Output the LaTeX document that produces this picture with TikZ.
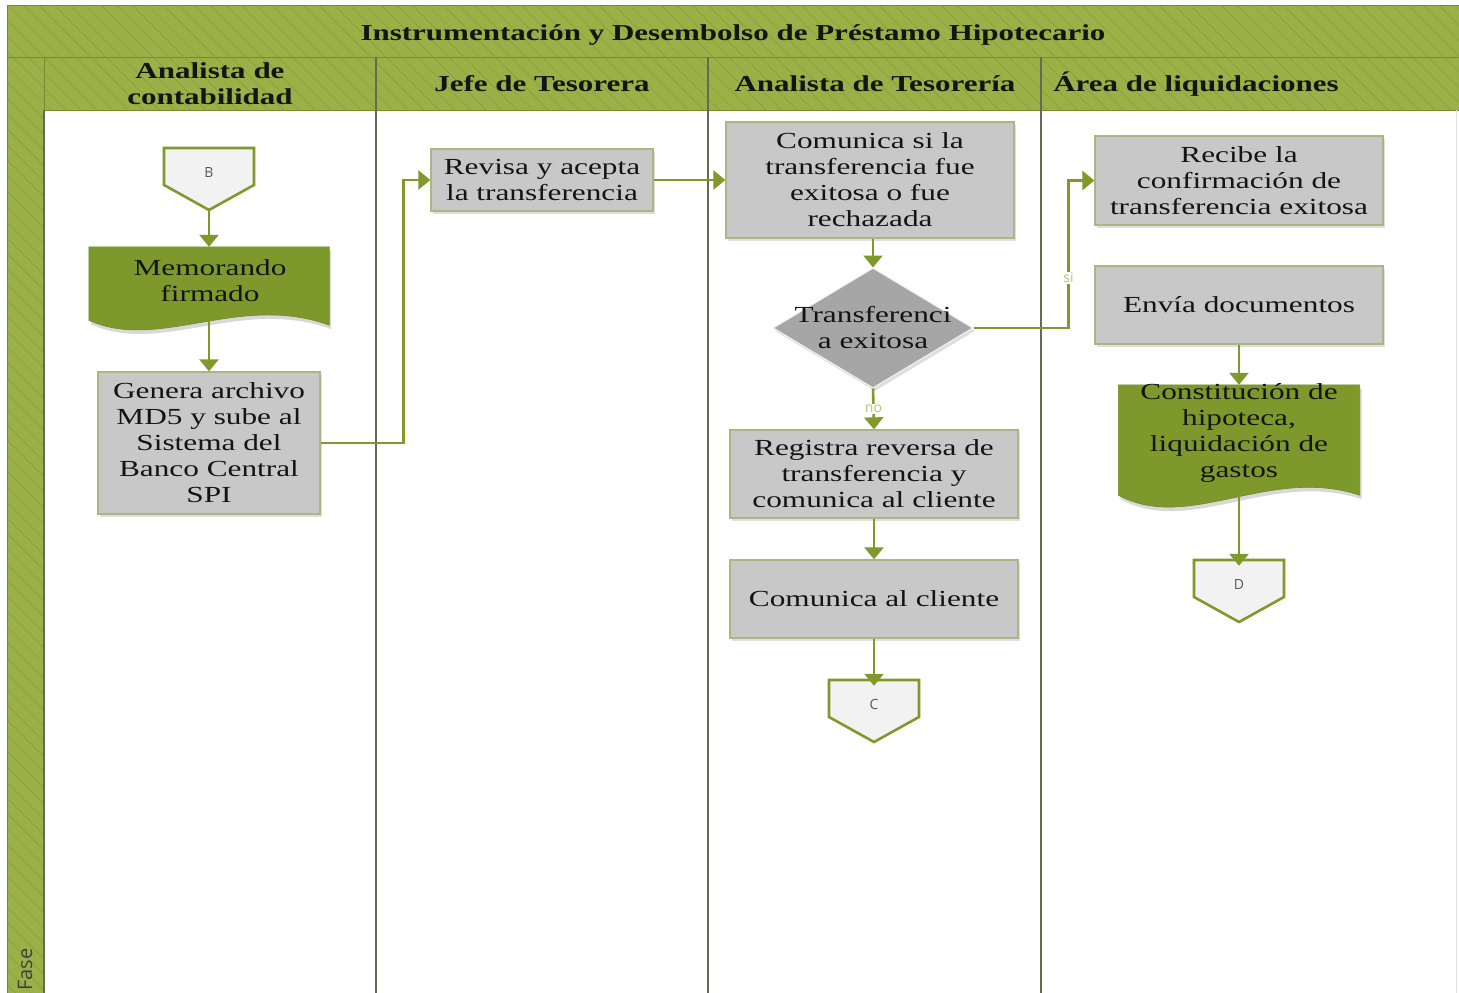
\documentclass[tikz,border=0pt]{standalone}
\usepackage{fontspec}
\setmainfont[FakeStretch=1.36]{Liberation Serif}
\newfontfamily\tagfont{Open Sans}
\usetikzlibrary{arrows.meta,shapes.geometric,shadows,calc,patterns.meta}

\definecolor{band}{RGB}{155,177,72}
\definecolor{bandedge}{RGB}{118,138,48}
\definecolor{docgreen}{RGB}{126,153,43}
\definecolor{flowgreen}{RGB}{127,154,42}
\definecolor{boxgray}{RGB}{200,200,200}
\definecolor{boxedge}{RGB}{172,182,132}
\definecolor{decgray}{RGB}{166,166,166}
\definecolor{offfill}{RGB}{242,242,242}
\definecolor{laneline}{RGB}{100,106,85}
\definecolor{tagtext}{RGB}{182,198,112}
\definecolor{inktext}{RGB}{20,20,20}

\tikzset{
  bandcell/.style={fill=band, draw=bandedge, line width=0.8pt,
    postaction={pattern={Lines[angle=-45,distance=11pt,line width=0.5pt]}, pattern color=bandedge!60!band}},
  lanesep/.style={draw=laneline, line width=1.4pt},
  headtext/.style={font=\fontsize{22.8}{26}\selectfont\bfseries, text=inktext, align=center},
  stepbox/.style={rectangle, fill=boxgray, draw=boxedge, line width=1.3pt,
    font=\fontsize{23}{26}\selectfont, text=inktext, align=center, inner sep=0pt,
    drop shadow={opacity=0.25, shadow xshift=2pt, shadow yshift=-3pt}},
  docbox/.style={rectangle, inner sep=0pt, font=\fontsize{23}{26}\selectfont, text=inktext, align=center},
  docshape/.style={fill=docgreen, draw=docgreen!90!black, line width=0.6pt,
    drop shadow={opacity=0.3, shadow xshift=2pt, shadow yshift=-4pt}},
  decision/.style={diamond, fill=decgray, draw=white!90!gray, line width=1pt, inner sep=0pt,
    minimum width=200pt, minimum height=120pt,
    drop shadow={opacity=0.25, shadow xshift=2pt, shadow yshift=-3pt}},
  dectext/.style={font=\fontsize{23}{26}\selectfont, text=inktext, align=center},
  offshape/.style={fill=offfill, draw=flowgreen, line width=2.6pt, line join=miter},
  offtext/.style={rectangle, inner sep=0pt, minimum width=90pt, minimum height=37pt,
    font=\tagfont\fontsize{14}{16}\selectfont, text=black!65},
  flow/.style={draw=flowgreen, line width=2.6pt, -{Triangle[width=19pt,length=12pt]}},
  flowtag/.style={font=\tagfont\fontsize{14}{16}\selectfont, text=tagtext, fill=white, inner sep=1pt},
}

% off-page connector: rectangle with pointed bottom
\newcommand\offpage[3]{%
  \coordinate (#1-c) at (#2);
  \draw[offshape] ($(#1-c)+(-45,-18.5)$) -- ($(#1-c)+(45,-18.5)$) -- ($(#1-c)+(45,18.5)$)
     -- ($(#1-c)+(0,43.5)$) coordinate (#1-tip) -- ($(#1-c)+(-45,18.5)$) -- cycle;
  \node[offtext] (#1) at ($(#1-c)+(0,6)$) {#3};
}

\begin{document}
\begin{tikzpicture}[x=1pt,y=-1pt]
\useasboundingbox (0,0) rectangle (1459,993);
\fill[white] (0,0) rectangle (1459,993);

% pool frame
\path[bandcell] (7,5) rectangle (1462,57);
\path[bandcell] (7,57) rectangle (44,996);
\path[bandcell] (44,57) rectangle (1462,110);
\draw[draw=black!12, line width=0.8pt] (1456,110) -- (1456,996);
\draw[lanesep] (44,110) -- (44,996);
\foreach \x in {376,708,1041} \draw[lanesep] (\x,57) -- (\x,996);

\node[headtext] (title) at (733,35) {Instrumentación y Desembolso de Préstamo Hipotecario};
\node[headtext] (lane1) at (210,84) {Analista de\\contabilidad};
\node[headtext] (lane2) at (542,84) {Jefe de Tesorera};
\node[headtext] (lane3) at (875,84) {Analista de Tesorería};
\node[headtext] (lane4) at (1196,84) {Área de liquidaciones};
\node[font=\tagfont\fontsize{20}{22}\selectfont, text=black!75, rotate=90, anchor=west, inner sep=0pt] (fase) at (25,991) {Fase};

% lane 1
\offpage{B}{209,166.5}{B}
\node[docbox, minimum width=240pt, minimum height=73pt] (memo) at (209,283.5) {};
\draw[docshape] (memo.north west) -- (memo.north east) -- ($(memo.south east)+(0,5)$)
  .. controls ($(memo.south)+(30,-28)$) and ($(memo.south)+(-50,32)$) .. (memo.south west) -- cycle;
\node[docbox] (memotext) at (210,281) {Memorando\\firmado};
\node[stepbox, minimum width=222pt, minimum height=142pt] (genera) at (209,443)
  {Genera archivo\\MD5 y sube al\\Sistema del\\Banco Central\\SPI};

% lane 2
\node[stepbox, minimum width=222pt, minimum height=62pt] (revisa) at (542,180)
  {Revisa y acepta\\la transferencia};

% lane 3
\node[stepbox, minimum width=288pt, minimum height=116pt] (comunica) at (870,180)
  {Comunica si la\\transferencia fue\\exitosa o fue\\rechazada};
\node[decision, label={[dectext]center:{Transferenci\\a exitosa}}] (dec) at (873,328) {};
\node[stepbox, minimum width=288pt, minimum height=88pt] (registra) at (874,474)
  {Registra reversa de\\transferencia y\\comunica al cliente};
\node[stepbox, minimum width=288pt, minimum height=78pt] (comcli) at (874,599)
  {Comunica al cliente};
\offpage{C}{874,698.5}{C}

% lane 4
\node[stepbox, minimum width=288pt, minimum height=89pt] (recibe) at (1239,180.5)
  {Recibe la\\confirmación de\\transferencia exitosa};
\node[stepbox, minimum width=288pt, minimum height=78pt] (envia) at (1239,305)
  {Envía documentos};
\node[docbox, minimum width=241pt, minimum height=110pt] (const) at (1239,440) {};
\draw[docshape] (const.north west) -- (const.north east) -- (const.south east)
  .. controls ($(const.south)+(30,-30)$) and ($(const.south)+(-50,38)$) .. (const.south west) -- cycle;
\node[docbox] (consttext) at (1239,433) {Constitución de\\hipoteca,\\liquidación de\\gastos};
\offpage{D}{1239,578.5}{D}

% connectors
\draw[flow] (B-tip) -- (memo.north);
\draw[flow] (memo.south) -- (genera.north);
\draw[flow] (genera.east) -- ++(83,0) |- (revisa.west);
\draw[flow] (revisa.east) -- (comunica.west);
\draw[flow] (comunica.south -| dec.north) -- (dec.north);
\draw[flow] (dec.east) -- ++(95,0) |- (recibe.west) node[flowtag, pos=0.17] {si};
\draw[flow] (dec.south) -- (registra.north) node[flowtag, midway] {no};
\draw[flow] (registra.south) -- (comcli.north);
\draw[flow] (comcli.south) -- (C.north);
\draw[flow] (envia.south) -- (const.north);
\draw[flow] (const.south) -- (D.north);
\end{tikzpicture}
\end{document}
